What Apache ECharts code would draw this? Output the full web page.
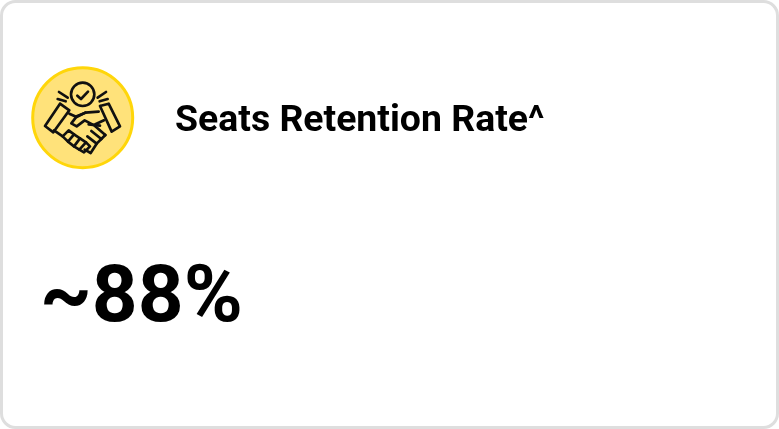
<!DOCTYPE html>
<html>
<head>
<meta charset="utf-8">
<style>
  html, body { margin: 0; padding: 0; background: #fff; }
  #kpi-card { width: 779px; height: 429px; }
</style>
<script src="https://cdn.jsdelivr.net/npm/echarts@6/dist/echarts.min.js"></script>
</head>
<body>
<div id="kpi-card"></div>
<script>
const headings = ['Seats Retention Rate^'];
const kpiValues = ['~88%'];

// icon strokes, in units of the 3x crop
const iconLines = [
    [[172, 122], [183, 132], [204, 110]],
    [[117, 111], [143, 128]],
    [[113, 132], [137, 139]],
    [[258, 111], [233, 128]],
    [[263, 132], [239, 139]],
    [[120, 146], [148, 166], [100, 232], [75, 213], [120, 146]],
    [[240, 153], [266, 146], [300, 214], [275, 230], [240, 153]],
    [[148, 176], [170, 186], [196, 173], [236, 170]],
    [[252, 196], [226, 208]],
    [[196, 173], [170, 184], [154, 205], [170, 214], [194, 196], [224, 212], [256, 240]],
    [[256, 240], [244, 252], [214, 228]],
    [[244, 252], [230, 266], [202, 244]],
    [[230, 266], [212, 294], [194, 284]],
    [[102, 226], [128, 244]],
    [[128, 244], [146, 226], [162, 238], [144, 260], [128, 244]],
    [[144, 260], [162, 274], [180, 250], [162, 238]],
    [[162, 274], [178, 284], [198, 262], [180, 250]],
    [[178, 284], [192, 292], [210, 274], [198, 262]],
    [[206, 208], [240, 212]]
];

const chart = echarts.init(document.getElementById('kpi-card'));

const iconStroke = {stroke: '#111', lineWidth: 8, fill: null, lineCap: 'round', lineJoin: 'round'};

chart.setOption({
    animation: false,
    graphic: {
        elements: [
            {
                type: 'rect',
                shape: {x: 1.5, y: 1.5, width: 776, height: 426, r: 14},
                style: {fill: '#fff', stroke: '#dedede', lineWidth: 3}
            },
            {
                type: 'circle',
                shape: {cx: 82.7, cy: 117.7, r: 50},
                style: {fill: '#ffe27a', stroke: '#ffd60a', lineWidth: 3}
            },
            {
                type: 'group',
                x: 20,
                y: 55,
                scaleX: 1 / 3,
                scaleY: 1 / 3,
                children: [
                    {type: 'circle', shape: {cx: 188, cy: 118, r: 35}, style: iconStroke}
                ].concat(iconLines.map((points) => ({
                    type: 'polyline',
                    shape: {points: points},
                    style: iconStroke
                })))
            },
            {
                type: 'text',
                x: 175,
                y: 122,
                style: {
                    text: headings[0],
                    fill: '#000',
                    font: 'bold 37.4px Roboto',
                    textVerticalAlign: 'middle'
                }
            },
            {
                type: 'text',
                x: 40,
                y: 301,
                style: {
                    text: kpiValues[0],
                    fill: '#000',
                    font: 'bold 80px Roboto',
                    textVerticalAlign: 'middle'
                }
            }
        ]
    }
});
</script>
</body>
</html>
